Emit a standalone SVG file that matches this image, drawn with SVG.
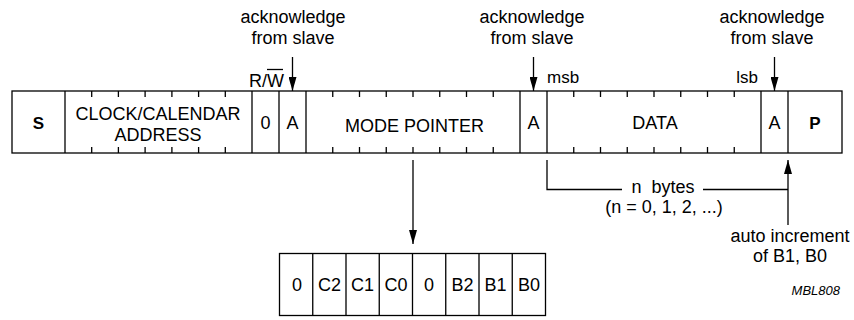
<svg xmlns="http://www.w3.org/2000/svg" width="854" height="320" viewBox="0 0 854 320">
<defs>
<style>
.ln{stroke:#000;stroke-width:1.3;fill:none}
.bx{stroke:#000;stroke-width:1.3;fill:#fff}
.t{font-family:"Liberation Sans",Arial,sans-serif;font-size:18px;fill:#000;text-anchor:middle}
.b{font-weight:bold;font-size:17px}
.s{font-size:17px}
</style>
<marker id="ah" viewBox="0 0 14 8" refX="14" refY="4" markerWidth="14" markerHeight="8" markerUnits="userSpaceOnUse" orient="auto">
<path d="M0,0 L14,4 L0,8 Z" fill="#000"/>
</marker>
</defs>
<rect width="854" height="320" fill="#fff"/>

<g id="frame">
<rect class="bx" x="12" y="91" width="830" height="62"/>
</g>

<g id="field-S">
<line class="ln" x1="65" y1="91" x2="65" y2="153"/>
<text class="t b" x="38.5" y="128.5">S</text>
</g>

<g id="field-address">
<path class="ln" d="M91.7,91v6M118.4,91v6M145.1,91v6M171.9,91v6M198.6,91v6M225.3,91v6M91.7,147v6M118.4,147v6M145.1,147v6M171.9,147v6M198.6,147v6M225.3,147v6"/>
<line class="ln" x1="252" y1="91" x2="252" y2="153"/>
<text class="t" x="158" y="120">CLOCK/CALENDAR</text>
<text class="t" x="158" y="141">ADDRESS</text>
</g>

<g id="field-rw">
<line class="ln" x1="279" y1="91" x2="279" y2="153"/>
<text class="t" x="265.5" y="129">0</text>
<text class="t" x="249" y="87" style="text-anchor:start">R/W</text>
<line class="ln" x1="267" y1="69.5" x2="283" y2="69.5"/>
</g>

<g id="field-ack1">
<line class="ln" x1="306" y1="91" x2="306" y2="153"/>
<text class="t" x="292.5" y="129">A</text>
<text class="t" x="293" y="23">acknowledge</text>
<text class="t" x="293" y="43.5">from slave</text>
</g>

<g id="field-mode">
<path class="ln" d="M332.75,91v6M359.5,91v6M386.25,91v6M413,91v6M439.75,91v6M466.5,91v6M493.25,91v6M332.75,147v6M359.5,147v6M386.25,147v6M413,147v6M439.75,147v6M466.5,147v6M493.25,147v6"/>
<line class="ln" x1="520" y1="91" x2="520" y2="153"/>
<text class="t" x="414.5" y="131.5">MODE POINTER</text>
</g>

<g id="field-ack2">
<line class="ln" x1="547" y1="91" x2="547" y2="153"/>
<text class="t" x="533.5" y="129">A</text>
<text class="t" x="532" y="23">acknowledge</text>
<text class="t" x="532" y="43.5">from slave</text>
</g>

<g id="field-data">
<path class="ln" d="M573.75,91v6M600.5,91v6M627.25,91v6M654,91v6M680.75,91v6M707.5,91v6M734.25,91v6M573.75,147v6M600.5,147v6M627.25,147v6M654,147v6M680.75,147v6M707.5,147v6M734.25,147v6"/>
<line class="ln" x1="761" y1="91" x2="761" y2="153"/>
<text class="t" x="655" y="129">DATA</text>
<text class="t s" x="547" y="83" style="text-anchor:start">msb</text>
<text class="t s" x="758" y="83" style="text-anchor:end">lsb</text>
</g>

<g id="field-ack3">
<line class="ln" x1="788" y1="91" x2="788" y2="153"/>
<text class="t" x="774.5" y="129">A</text>
<text class="t" x="772" y="23">acknowledge</text>
<text class="t" x="772" y="43.5">from slave</text>
</g>

<g id="field-P">
<text class="t b" x="815" y="129">P</text>
</g>

<g id="mode-byte">
<rect class="bx" x="279.5" y="253.5" width="266" height="62"/>
<path class="ln" d="M312.75,253.5v62M346,253.5v62M379.25,253.5v62M412.5,253.5v62M445.75,253.5v62M479,253.5v62M512.25,253.5v62"/>
<text class="t" x="297" y="291">0</text>
<text class="t" x="329.4" y="291">C2</text>
<text class="t" x="362.6" y="291">C1</text>
<text class="t" x="395.9" y="291">C0</text>
<text class="t" x="429.1" y="291">0</text>
<text class="t" x="462.4" y="291">B2</text>
<text class="t" x="495.6" y="291">B1</text>
<text class="t" x="528.9" y="291">B0</text>
</g>

<g id="nbytes">
<text class="t" x="663" y="193" xml:space="preserve">n  bytes</text>
<text class="t" x="664" y="213">(n = 0, 1, 2, ...)</text>
</g>

<g id="autoinc">
<text class="t" x="790" y="241.5">auto increment</text>
<text class="t" x="790" y="262">of B1, B0</text>
</g>

<g id="connectors">
<line class="ln" x1="292.5" y1="57" x2="292.5" y2="91" marker-end="url(#ah)"/>
<line class="ln" x1="533.5" y1="57" x2="533.5" y2="91" marker-end="url(#ah)"/>
<line class="ln" x1="774.5" y1="57" x2="774.5" y2="91" marker-end="url(#ah)"/>
<line class="ln" x1="413" y1="160" x2="413" y2="244" marker-end="url(#ah)"/>
<path class="ln" d="M547,160V189.5H622M703,189.5H788"/>
<line class="ln" x1="788" y1="225" x2="788" y2="160" marker-end="url(#ah)"/>
</g>

<text x="840" y="295" style="font-family:'Liberation Sans',Arial,sans-serif;font-size:13px;font-style:italic;text-anchor:end">MBL808</text>
</svg>
